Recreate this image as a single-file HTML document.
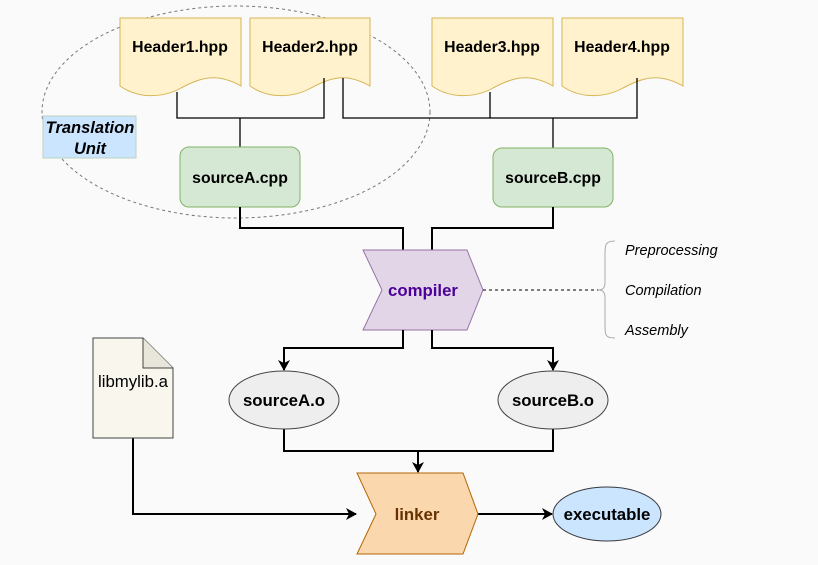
<!DOCTYPE html>
<html><head><meta charset="utf-8"><style>
html,body{margin:0;padding:0;background:#fafafa;}
svg{display:block;}
text{font-family:"Liberation Sans",Arial,sans-serif;}
</style></head><body>
<svg width="818" height="565" viewBox="0 0 818 565" xmlns="http://www.w3.org/2000/svg">
<defs>
<marker id="ar" markerWidth="14" markerHeight="14" refX="10" refY="6" orient="auto" markerUnits="userSpaceOnUse">
<path d="M0,0 L11,6 L0,12 L3,6 Z" fill="#000"/></marker>
</defs>
<rect width="818" height="565" fill="#fafafa"/>
<ellipse cx="236" cy="112" rx="194" ry="106" fill="none" stroke="#777" stroke-dasharray="3,3" stroke-width="1"/>
<g fill="#fff2cc" stroke="#d6b656" stroke-width="1">
<path d="M120,18 H241 V86 C216,72 200,78 181,88 C165,97 140,100 120,86 Z"/>
<path d="M250,18 H370 V86 C345,72 330,78 311,88 C295,97 270,100 250,86 Z"/>
<path d="M432,18 H553 V86 C528,72 512,78 493,88 C477,97 452,100 432,86 Z"/>
<path d="M562,18 H683 V86 C658,72 642,78 623,88 C607,97 582,100 562,86 Z"/>
</g>
<g font-size="15.8" font-weight="bold" text-anchor="middle" fill="#000">
<text x="180" y="52">Header1.hpp</text>
<text x="310" y="52">Header2.hpp</text>
<text x="492" y="52">Header3.hpp</text>
<text x="622" y="52">Header4.hpp</text>
</g>
<g fill="none" stroke="#000" stroke-width="1.3">
<path d="M177,92 V118 H324 V78"/>
<path d="M240,118 V147"/>
<path d="M343,78 V118 H637 V78"/>
<path d="M490,92 V118"/>
<path d="M553,118 V148"/>
</g>
<rect x="43" y="116" width="93" height="42" fill="#cce5ff" stroke="#b9d3c0" stroke-width="1"/>
<text x="90" y="133" font-size="16.5" font-weight="bold" font-style="italic" text-anchor="middle">Translation</text>
<text x="90" y="154" font-size="16.5" font-weight="bold" font-style="italic" text-anchor="middle">Unit</text>
<rect x="180" y="147" width="120" height="60" rx="9" fill="#d5e8d4" stroke="#82b366"/>
<rect x="493" y="148" width="120" height="59" rx="9" fill="#d5e8d4" stroke="#82b366"/>
<text x="240" y="183" font-size="15.8" font-weight="bold" text-anchor="middle">sourceA.cpp</text>
<text x="553" y="183" font-size="15.8" font-weight="bold" text-anchor="middle">sourceB.cpp</text>
<g fill="none" stroke="#000" stroke-width="2">
<path d="M240,207 V228 H403 V250"/>
<path d="M553,207 V228 H432 V250"/>
</g>
<path d="M363,250 H467 L483,290 L467,330 H363 L382,290 Z" fill="#e1d5e7" stroke="#9673a6"/>
<text x="423" y="296" font-size="16.8" font-weight="bold" fill="#4c0099" text-anchor="middle">compiler</text>
<path d="M483,290 H598" stroke="#000" stroke-dasharray="3,3" fill="none"/>
<path d="M615,241 C605,241 605,245 605,255 V282 C605,288 603,290 598,290 C603,290 605,292 605,298 V325 C605,335 605,338 615,338" fill="none" stroke="#aaa" stroke-width="1"/>
<g font-size="14.5" font-style="italic" fill="#000">
<text x="625" y="255">Preprocessing</text>
<text x="625" y="295">Compilation</text>
<text x="625" y="335">Assembly</text>
</g>
<g fill="none" stroke="#000" stroke-width="2">
<path d="M403,330 V348 H284 V370" marker-end="url(#ar)"/>
<path d="M432,330 V348 H553 V370" marker-end="url(#ar)"/>
<path d="M284,429 V451 H553 V429"/>
<path d="M418,451 V472" marker-end="url(#ar)"/>
<path d="M133,438 V514 H356" marker-end="url(#ar)"/>
<path d="M478,514 H552" marker-end="url(#ar)"/>
</g>
<ellipse cx="284" cy="400" rx="55" ry="29" fill="#eeeeee" stroke="#444"/>
<ellipse cx="553" cy="400" rx="55" ry="29" fill="#eeeeee" stroke="#444"/>
<text x="284" y="406" font-size="16.8" font-weight="bold" text-anchor="middle">sourceA.o</text>
<text x="553" y="406" font-size="16.8" font-weight="bold" text-anchor="middle">sourceB.o</text>
<path d="M93,338 H143 L173,368 V438 H93 Z" fill="#f9f7ed" stroke="#444"/>
<path d="M143,338 V368 H173" fill="#e8e6da" stroke="#444"/>
<text x="133" y="387" font-size="16.8" text-anchor="middle">libmylib.a</text>
<path d="M357,473 H463 L478,514 L463,554 H357 L376,514 Z" fill="#fad7ac" stroke="#b46504"/>
<text x="417" y="520" font-size="16.8" font-weight="bold" fill="#663300" text-anchor="middle">linker</text>
<ellipse cx="607" cy="514" rx="54" ry="27" fill="#cce5ff" stroke="#36393d"/>
<text x="607" y="520" font-size="16.8" font-weight="bold" text-anchor="middle">executable</text>
</svg>
</body></html>
